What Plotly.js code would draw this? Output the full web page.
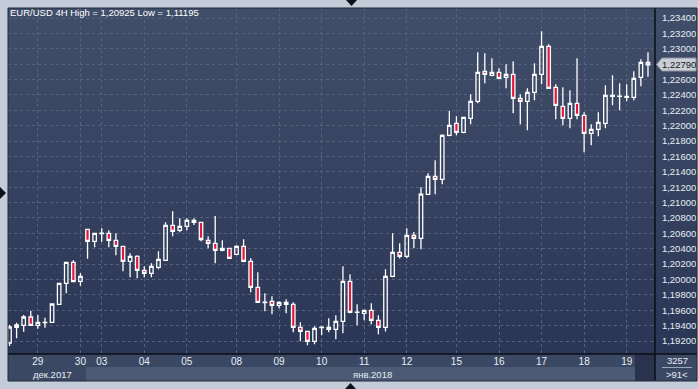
<!DOCTYPE html>
<html><head><meta charset="utf-8">
<script src="https://cdn.plot.ly/plotly-3.0.1.min.js"></script>
<style>
html,body{margin:0;padding:0;background:#c3ccd8;}
#wrap{position:relative;width:698px;height:389px;overflow:hidden;background:#c3ccd8;}
#bg{position:absolute;left:8px;top:8px;width:689px;height:346px;background:linear-gradient(to bottom,#414e6a 0%,#36425f 50%,#2b3656 100%);}
#chart{position:absolute;left:0;top:0;width:698px;height:389px;}
</style></head>
<body><div id="wrap"><div id="bg"></div><div id="chart"></div></div>
<script>
// ---- data (EUR/USD 4H candles) ----
const candleIdx = Array.from({length: 91}, (_, i) => i);
const openV = [1.19174,1.19378,1.19404,1.19512,1.19404,1.19440,1.19443,1.19677,1.19950,1.20223,
 1.19976,1.20652,1.20496,1.20598,1.20600,1.20509,1.20431,1.20236,1.20301,1.20119,
 1.20080,1.20158,1.20249,1.20704,1.20639,1.20691,1.20769,1.20743,1.20509,1.20470,
 1.20379,1.20405,1.20327,1.20431,1.20236,1.19898,1.19700,1.19716,1.19664,1.19703,
 1.19677,1.19378,1.19326,1.19196,1.19375,1.19378,1.19352,1.19456,1.19976,1.19573,
 1.19560,1.19599,1.19469,1.19378,1.20041,1.20353,1.20301,1.20574,1.20535,1.21107,
 1.21341,1.21302,1.21875,1.22031,1.21914,1.22096,1.22317,1.22707,1.22655,1.22694,
 1.22629,1.22668,1.22356,1.22317,1.22434,1.22668,1.23032,1.22499,1.22252,1.22096,
 1.22291,1.22135,1.21901,1.21953,1.22031,1.22382,1.22380,1.22369,1.22369,1.22629,
 1.22824];
const highV = [1.19408,1.19438,1.19538,1.19594,1.19538,1.19503,1.19690,1.19954,1.20227,1.20249,
 1.20080,1.20655,1.20603,1.20665,1.20639,1.20600,1.20434,1.20340,1.20314,1.20171,
 1.20210,1.20366,1.20743,1.20886,1.20795,1.20795,1.20795,1.20745,1.20561,1.20825,
 1.20509,1.20408,1.20444,1.20522,1.20275,1.20093,1.19820,1.19781,1.19716,1.19742,
 1.19703,1.19443,1.19330,1.19391,1.19391,1.19495,1.19534,1.20171,1.20067,1.19677,
 1.19602,1.19690,1.19534,1.20132,1.20600,1.20470,1.20665,1.20617,1.21198,1.21380,
 1.21550,1.21888,1.22191,1.22122,1.22112,1.22408,1.22954,1.22941,1.22876,1.22746,
 1.22798,1.22837,1.22408,1.22486,1.22811,1.23227,1.23058,1.22538,1.22499,1.22460,
 1.22876,1.22174,1.22018,1.22174,1.22525,1.22655,1.22551,1.22538,1.22707,1.22863,
 1.22954];
const lowV = [1.19135,1.19235,1.19321,1.19400,1.19360,1.19373,1.19440,1.19675,1.19820,1.19970,
 1.19919,1.20270,1.20418,1.20491,1.20418,1.20314,1.20106,1.20028,1.20015,1.20028,
 1.20028,1.20132,1.20245,1.20561,1.20613,1.20639,1.20708,1.20496,1.20405,1.20210,
 1.20366,1.20272,1.20314,1.20223,1.19833,1.19700,1.19586,1.19547,1.19625,1.19560,
 1.19313,1.19196,1.19144,1.19157,1.19274,1.19313,1.19222,1.19300,1.19560,1.19404,
 1.19469,1.19417,1.19287,1.19323,1.20028,1.20273,1.20275,1.20405,1.20392,1.21105,
 1.21107,1.21237,1.21862,1.21875,1.21901,1.22018,1.22291,1.22551,1.22642,1.22603,
 1.22486,1.22161,1.22018,1.21940,1.22330,1.22538,1.22484,1.22083,1.22005,1.21966,
 1.22083,1.21654,1.21745,1.21862,1.21966,1.22265,1.22200,1.22317,1.22330,1.22512,
 1.22637];
const closeV = [1.19382,1.19408,1.19512,1.19404,1.19443,1.19443,1.19681,1.19950,1.20223,1.19971,
 1.20041,1.20496,1.20600,1.20602,1.20509,1.20431,1.20236,1.20301,1.20119,1.20080,
 1.20171,1.20262,1.20704,1.20626,1.20691,1.20769,1.20743,1.20520,1.20470,1.20379,
 1.20405,1.20275,1.20431,1.20236,1.19898,1.19703,1.19705,1.19664,1.19703,1.19677,
 1.19378,1.19326,1.19196,1.19365,1.19380,1.19352,1.19456,1.19976,1.19573,1.19575,
 1.19599,1.19469,1.19378,1.20041,1.20353,1.20301,1.20574,1.20535,1.21111,1.21341,
 1.21302,1.21875,1.22005,1.21914,1.22109,1.22317,1.22694,1.22668,1.22694,1.22616,
 1.22668,1.22356,1.22317,1.22434,1.22668,1.23032,1.22486,1.22265,1.22096,1.22291,
 1.22135,1.21901,1.21953,1.22044,1.22395,1.22395,1.22384,1.22382,1.22616,1.22824,
 1.22790];
const dayTickIdx = [4,10,13,19,25,32,38,44,50,56,63,69,75,81,87];
const dayLabels = ['29','30','03','04','05','08','09','10','11','12','15','16','17','18','19'];
const monthLabels = ['дек.2017','янв.2018'];
const titleText = 'EUR/USD 4H High = 1,20925 Low = 1,11195';
const lastPriceText = '1,22790';
const barCountText = '3257';
const visibleBarsText = '>91<';

// ---- geometry helpers (pixels -> paper) ----
const W=698,H=389,ML=8,MR=43,MT=8,MB=35;
const pw=W-ML-MR, ph=H-MT-MB;
const px = x => (x-ML)/pw;
const py = y => (H-MB-y)/ph;
const pt = (x,y) => px(x).toFixed(5)+','+py(y).toFixed(5);
const FONT = 'Liberation Sans, Arial, sans-serif';
const TXT = '#e8edf4';

const trace = {
  type:'candlestick', x:candleIdx, open:openV, high:highV, low:lowV, close:closeV,
  increasing:{line:{color:'#ffffff', width:1.3}, fillcolor:'rgba(0,0,0,0)'},
  decreasing:{line:{color:'#ffffff', width:1.3}, fillcolor:'#e3173b'},
  whiskerwidth:0, hoverinfo:'skip', showlegend:false
};

function rect(x0,y0,x1,y1,fill,layer){
  return {type:'rect',xref:'paper',yref:'paper',x0:px(x0),x1:px(x1),y0:py(y1),y1:py(y0),
    fillcolor:fill,line:{width:0},layer:layer||'below'};
}
function line(x0,y0,x1,y1,color,w){
  return {type:'line',xref:'paper',yref:'paper',x0:px(x0),x1:px(x1),y0:py(y0),y1:py(y1),
    line:{color:color,width:w||1},layer:'above'};
}
function poly(points,fill,lc){
  return {type:'path',xref:'paper',yref:'paper',
    path:'M'+points.map(p=>pt(p[0],p[1])).join('L')+'Z',
    fillcolor:fill,line:{color:lc||fill,width:lc?1:0},layer:'above'};
}

const shapes = [
  rect(8,354,697,367,'#3b4864'),
  rect(8,367,86,381,'#3b4864'),
  rect(86,367,635,381,'#4c5a75'),
  rect(635,354,655,381,'#29334e'),
  rect(655,354,697,381,'#3b4864'),
  line(8,354,697,354,'#0b0e16',1.5),
  line(655,8,655,381,'#0b0e16',1.5),
  {type:'rect',xref:'paper',yref:'paper',x0:px(8),x1:px(697),y0:py(381),y1:py(8),
    line:{color:'#202838',width:1},fillcolor:'rgba(0,0,0,0)',layer:'above'},
  line(662,367.5,692,367.5,'#9aa6b9',1),
  poly([[346,0],[357,0],[351.5,6]],'#0d1017'),
  poly([[0,187],[0,199],[6,193]],'#0d1017'),
  poly([[345,389],[356,389],[350.5,383]],'#0d1017'),
  poly([[656.5,64.5],[662,58],[696,58],[696,71],[662,71]],'#c9ced6','#8c939e')
];

const annotations = [
  {xref:'paper',yref:'paper',x:px(31),y:py(374),xanchor:'left',yanchor:'middle',text:monthLabels[0],
    showarrow:false,font:{family:FONT,size:9.5,color:TXT}},
  {xref:'paper',yref:'paper',x:px(351),y:py(374),xanchor:'left',yanchor:'middle',text:monthLabels[1],
    showarrow:false,font:{family:FONT,size:9.5,color:TXT}},
  {xref:'paper',yref:'paper',x:px(677),y:py(360.5),xanchor:'center',yanchor:'middle',text:barCountText,
    showarrow:false,font:{family:FONT,size:9.5,color:TXT}},
  {xref:'paper',yref:'paper',x:px(677),y:py(374.5),xanchor:'center',yanchor:'middle',text:visibleBarsText,
    showarrow:false,font:{family:FONT,size:9.5,color:TXT}},
  {xref:'paper',yref:'paper',x:px(679),y:py(64.5),xanchor:'center',yanchor:'middle',text:lastPriceText,
    showarrow:false,font:{family:FONT,size:9.5,color:'#141820'}}
];

const layout = {
  width:W, height:H, margin:{l:ML,r:MR,t:MT,b:MB,pad:0},
  paper_bgcolor:'rgba(0,0,0,0)', plot_bgcolor:'rgba(0,0,0,0)',
  separators:',.',
  showlegend:false, hovermode:false, dragmode:false,
  title:{text:titleText, xref:'container', yref:'container', x:10/W, xanchor:'left',
    y:1-9/H, yanchor:'top', pad:{t:0,b:0,l:0,r:0}, font:{family:FONT,size:9.5,color:'#ffffff'}},
  xaxis:{range:[-0.21,90.99], tickmode:'array', tickvals:dayTickIdx, ticktext:dayLabels,
    showgrid:true, gridcolor:'#55627e', griddash:'3px,3px', gridwidth:1,
    zeroline:false, showline:false, ticks:'', tickfont:{family:FONT,size:10,color:TXT},
    rangeslider:{visible:false}, fixedrange:true},
  yaxis:{side:'right', range:[1.19031,1.2353], tick0:1.192, dtick:0.002, tickformat:'.5f',
    showgrid:true, gridcolor:'#55627e', griddash:'3px,3px', gridwidth:1,
    zeroline:false, showline:false, ticks:'outside', ticklen:4, tickcolor:'rgba(0,0,0,0)',
    tickfont:{family:FONT,size:9.5,color:TXT}, fixedrange:true},
  shapes:shapes, annotations:annotations
};

Plotly.newPlot('chart',[trace],layout,{displayModeBar:false,staticPlot:true});
</script></body></html>
